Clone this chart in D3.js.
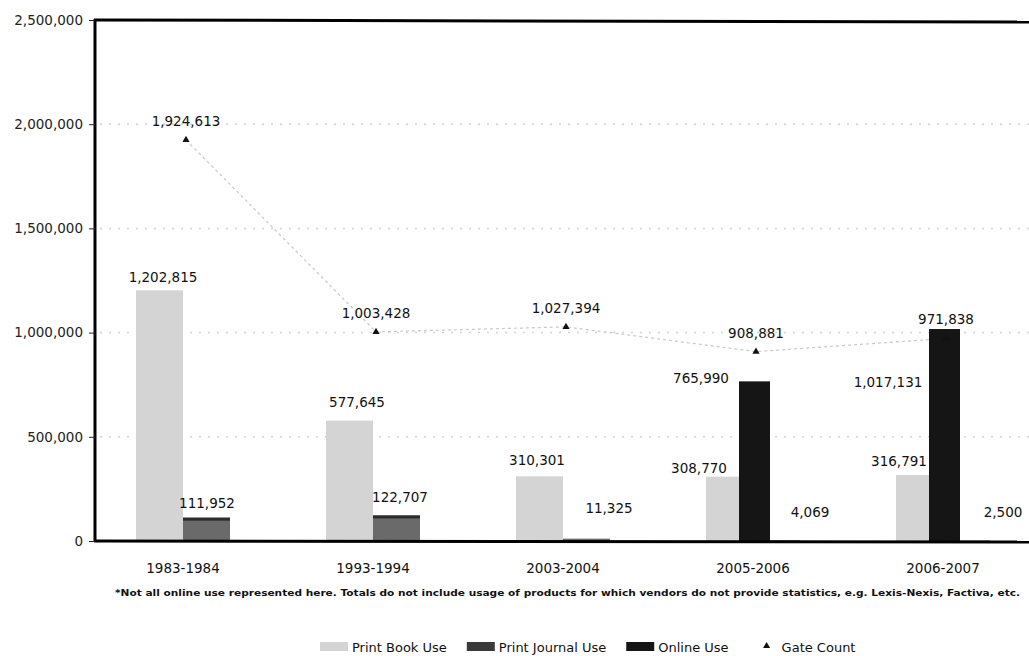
<!DOCTYPE html>
<html>
<head>
<meta charset="utf-8">
<script src="https://cdn.jsdelivr.net/npm/d3@7"></script>
<style>
  body { margin: 0; background: #fff; }
  text { font-family: 'DejaVu Sans', sans-serif; }
</style>
</head>
<body>
<div id="chart"></div>
<script>
const years = ['1983-1984', '1993-1994', '2003-2004', '2005-2006', '2006-2007']
const printBook = [1202815, 577645, 310301, 308770, 316791]
const printJournal = [111952, 122707, 11325, 4069, 2500]
const online = [null, null, null, 765990, 1017131]
const gateCount = [1924613, 1003428, 1027394, 908881, 971838]
const yTicks = [0, 500000, 1000000, 1500000, 2000000, 2500000]
const seriesNames = ['Print Book Use', 'Print Journal Use', 'Online Use', 'Gate Count']
const footnote = '*Not all online use represented here. Totals do not include usage of products for which vendors do not provide statistics, e.g. Lexis-Nexis, Factiva, etc.'

// hand-placed label nudges (the original labels were dragged around)
const bookLabelDx = [-20, -16, -26, -54, -44]
const bookLabelDy = [-8, -14, -11, -4, -9]
const journalLabelDx = [24, 27, 46, 57, 60]
const journalLabelDy = [-10, -13, -26, -23, -23]
const onlineLabelDx = [0, 0, 0, -52, -55]
const onlineLabelDy = [0, 0, 0, 2, 58]

const width = 1029
const height = 656

const svg = d3
  .select('#chart')
  .append('svg')
  .attr('width', width)
  .attr('height', height)

const xScale = d3.scaleBand().domain(years).range([88, 1038])
const center = d => xScale(d) + xScale.bandwidth() / 2
const yScale = d3.scaleLinear().domain([0, 2500000]).range([541, 20])

const barScale = d3
  .scaleBand()
  .domain(['book', 'journal'])
  .range([-47, 47])

// gridlines
svg
  .selectAll('.grid')
  .data(yTicks.filter(d => d > 0 && d < 2500000))
  .enter()
  .append('line')
  .attr('x1', 100)
  .attr('x2', width)
  .attr('y1', d => yScale(d))
  .attr('y2', d => yScale(d))
  .attr('stroke', '#d2d2d2')
  .attr('stroke-width', 1.5)
  .attr('stroke-dasharray', '2,7')

// bars
svg
  .selectAll('.book')
  .data(years)
  .enter()
  .append('rect')
  .attr('x', d => center(d) + barScale('book'))
  .attr('width', barScale.bandwidth())
  .attr('y', (d, i) => yScale(printBook[i]))
  .attr('height', (d, i) => yScale(0) - yScale(printBook[i]))
  .attr('fill', '#d4d4d4')

svg
  .selectAll('.journal')
  .data(years)
  .enter()
  .append('rect')
  .attr('x', d => center(d) + barScale('journal'))
  .attr('width', barScale.bandwidth())
  .attr('y', (d, i) => yScale(printJournal[i]))
  .attr('height', (d, i) => yScale(0) - yScale(printJournal[i]))
  .attr('fill', '#6a6a6a')

svg
  .selectAll('.journal-top')
  .data(years.filter((d, i) => printJournal[i] > 50000))
  .enter()
  .append('rect')
  .attr('x', d => center(d) + barScale('journal'))
  .attr('width', barScale.bandwidth())
  .attr('y', d => yScale(printJournal[years.indexOf(d)]))
  .attr('height', 3)
  .attr('fill', '#2c2c2c')

// gate count line (sits behind the online bars)
const line = d3
  .line()
  .x((d, i) => center(years[i]) + 3)
  .y(d => yScale(d))

svg
  .append('path')
  .datum(gateCount)
  .attr('d', line)
  .attr('fill', 'none')
  .attr('stroke', '#c8c8c8')
  .attr('stroke-width', 1.2)
  .attr('stroke-dasharray', '3,3')

svg
  .selectAll('.online')
  .data(years.filter((d, i) => online[i] !== null))
  .enter()
  .append('rect')
  .attr('x', d => center(d) - 14)
  .attr('width', 31)
  .attr('y', d => yScale(online[years.indexOf(d)]))
  .attr('height', d => yScale(0) - yScale(online[years.indexOf(d)]))
  .attr('fill', '#151515')

const tri = d3.symbol().type(d3.symbolTriangle).size(22)

svg
  .selectAll('.gate')
  .data(gateCount)
  .enter()
  .append('path')
  .attr('d', tri)
  .attr('fill', '#111')
  .attr('transform', (d, i) => `translate(${center(years[i]) + 3},${yScale(d)})`)

// axes frame
svg
  .append('line')
  .attr('x1', 95)
  .attr('x2', 95)
  .attr('y1', yScale(2500000) - 1)
  .attr('y2', yScale(0) + 1)
  .attr('stroke', '#000')
  .attr('stroke-width', 3)

svg
  .append('line')
  .attr('x1', 94)
  .attr('x2', width)
  .attr('y1', yScale(2500000))
  .attr('y2', yScale(2500000) + 2)
  .attr('stroke', '#000')
  .attr('stroke-width', 3)

svg
  .append('line')
  .attr('x1', 94)
  .attr('x2', width)
  .attr('y1', yScale(0))
  .attr('y2', yScale(0) + 1)
  .attr('stroke', '#000')
  .attr('stroke-width', 3)

const yAxis = svg
  .append('g')
  .attr('transform', 'translate(95,0)')
  .call(
    d3
      .axisLeft(yScale)
      .tickValues(yTicks)
      .tickSize(6)
      .tickPadding(6)
      .tickFormat(d3.format(','))
  )
yAxis.select('.domain').remove()
yAxis.selectAll('.tick line').attr('stroke', '#222')
yAxis
  .selectAll('.tick text')
  .attr('font-family', "'DejaVu Sans', sans-serif")
  .attr('font-size', 13.5)
  .attr('fill', '#222')

// category labels
svg
  .selectAll('.year')
  .data(years)
  .enter()
  .append('text')
  .attr('x', d => center(d))
  .attr('y', 573)
  .attr('text-anchor', 'middle')
  .attr('font-size', 13.5)
  .attr('fill', '#111')
  .text(d => d)

// data labels
const fmt = d3.format(',')
const labelFont = 13.5

svg
  .selectAll('.book-label')
  .data(years)
  .enter()
  .append('text')
  .attr('x', (d, i) => center(d) + bookLabelDx[i])
  .attr('y', (d, i) => yScale(printBook[i]) + bookLabelDy[i])
  .attr('text-anchor', 'middle')
  .attr('font-size', labelFont)
  .attr('fill', '#111')
  .text((d, i) => fmt(printBook[i]))

svg
  .selectAll('.journal-label')
  .data(years)
  .enter()
  .append('text')
  .attr('x', (d, i) => center(d) + journalLabelDx[i])
  .attr('y', (d, i) => yScale(printJournal[i]) + journalLabelDy[i])
  .attr('text-anchor', 'middle')
  .attr('font-size', labelFont)
  .attr('fill', '#111')
  .text((d, i) => fmt(printJournal[i]))

svg
  .selectAll('.online-label')
  .data(years.filter((d, i) => online[i] !== null))
  .enter()
  .append('text')
  .attr('x', d => center(d) + onlineLabelDx[years.indexOf(d)])
  .attr('y', d => yScale(online[years.indexOf(d)]) + onlineLabelDy[years.indexOf(d)])
  .attr('text-anchor', 'middle')
  .attr('font-size', labelFont)
  .attr('fill', '#111')
  .text(d => fmt(online[years.indexOf(d)]))

svg
  .selectAll('.gate-label')
  .data(gateCount)
  .enter()
  .append('text')
  .attr('x', (d, i) => center(years[i]) + 3)
  .attr('y', d => yScale(d) - 14)
  .attr('text-anchor', 'middle')
  .attr('font-size', labelFont)
  .attr('fill', '#111')
  .text(d => fmt(d))

// footnote
svg
  .append('text')
  .attr('x', 115)
  .attr('y', 596)
  .attr('font-size', 9.5)
  .attr('font-weight', 'bold')
  .attr('fill', '#111')
  .attr('textLength', 905)
  .attr('lengthAdjust', 'spacingAndGlyphs')
  .text(footnote)

// legend
const swatchFill = ['#d4d4d4', '#3a3a3a', '#151515', null]
const legend = svg.append('g').attr('transform', 'translate(320,652)')
let lx = 0
seriesNames.forEach((name, i) => {
  if (swatchFill[i]) {
    legend
      .append('rect')
      .attr('x', lx)
      .attr('y', -10)
      .attr('width', 28)
      .attr('height', 9)
      .attr('fill', swatchFill[i])
    lx += 32
  } else {
    lx += 18
    legend
      .append('path')
      .attr('d', tri)
      .attr('fill', '#111')
      .attr('transform', `translate(${lx},-6)`)
    lx += 15
  }
  const t = legend
    .append('text')
    .attr('x', lx)
    .attr('y', 0)
    .attr('font-size', 13)
    .attr('fill', '#111')
    .text(name)
  lx += t.node().getComputedTextLength() + 20
})
</script>
</body>
</html>
